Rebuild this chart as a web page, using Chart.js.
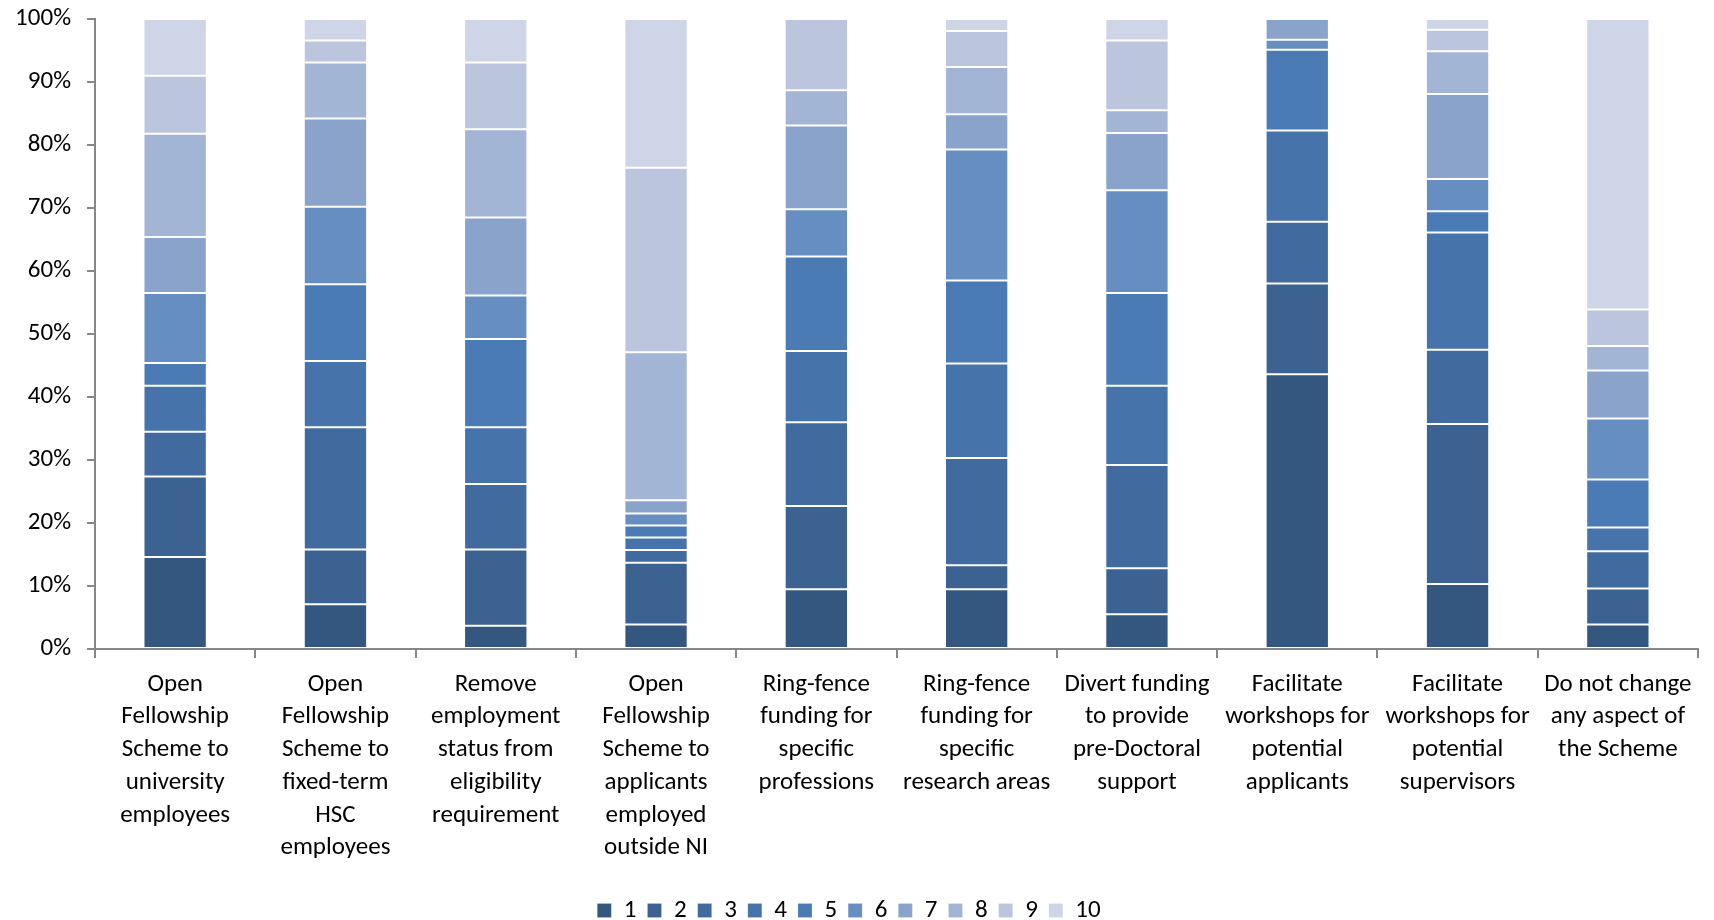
<!DOCTYPE html>
<html>
<head>
<meta charset="utf-8">
<title>Scheme changes ranking</title>
<script src="https://cdn.jsdelivr.net/npm/chart.js@4/dist/chart.umd.min.js"></script>
<style>
  html, body { margin: 0; padding: 0; background: #fff; }
  #caja { width: 1714px; height: 920px; position: relative; }
</style>
</head>
<body>
<div id="caja"><canvas id="miGrafica"></canvas></div>
<script>
'use strict'

// PROPOSED CHANGES (ONE BAR EACH)
const cambios = [
  ['Open', 'Fellowship', 'Scheme to', 'university', 'employees'],
  ['Open', 'Fellowship', 'Scheme to', 'fixed-term', 'HSC', 'employees'],
  ['Remove', 'employment', 'status from', 'eligibility', 'requirement'],
  ['Open', 'Fellowship', 'Scheme to', 'applicants', 'employed', 'outside NI'],
  ['Ring-fence', 'funding for', 'specific', 'professions'],
  ['Ring-fence', 'funding for', 'specific', 'research areas'],
  ['Divert funding', 'to provide', 'pre-Doctoral', 'support'],
  ['Facilitate', 'workshops for', 'potential', 'applicants'],
  ['Facilitate', 'workshops for', 'potential', 'supervisors'],
  ['Do not change', 'any aspect of', 'the Scheme']
];

// SHARE OF RESPONDENTS GIVING EACH RANK (%)
const rango1  = [14.6,  7.1,  3.7,  3.9,  9.5,  9.5,  5.5, 43.6, 10.3,  3.9];
const rango2  = [12.8,  8.7, 12.1,  9.8, 13.2,  3.8,  7.3, 14.4, 25.4,  5.7];
const rango3  = [ 7.1, 19.4, 10.4,  2.0, 13.3, 17.0, 16.4,  9.8, 11.8,  5.9];
const rango4  = [ 7.3, 10.5,  9.0,  2.0, 11.3, 15.0, 12.6, 14.5, 18.6,  3.8];
const rango5  = [ 3.6, 12.2, 14.0,  1.9, 15.0, 13.2, 14.7, 12.8,  3.4,  7.6];
const rango6  = [11.1, 12.3,  6.9,  1.9,  7.5, 20.8, 16.3,  1.6,  5.1,  9.7];
const rango7  = [ 8.9, 14.0, 12.4,  2.1, 13.3,  5.6,  9.1,  3.3, 13.5,  7.6];
const rango8  = [16.4,  8.9, 14.0, 23.5,  5.6,  7.5,  3.6,  0.0,  6.8,  3.9];
const rango9  = [ 9.2,  3.5, 10.6, 29.3, 11.3,  5.7, 11.1,  0.0,  3.4,  5.8];
const rango10 = [ 9.0,  3.4,  6.9, 23.6,  0.0,  1.9,  3.4,  0.0,  1.7, 46.1];

const rangos = [rango1, rango2, rango3, rango4, rango5, rango6, rango7, rango8, rango9, rango10];
const nombresRango = ['1', '2', '3', '4', '5', '6', '7', '8', '9', '10'];

// Y AXIS TICKS
const marcasY = [0, 10, 20, 30, 40, 50, 60, 70, 80, 90, 100];

const colores = [
  '#33577e', '#3b6290', '#416b9e', '#4673a9', '#4a7bb5',
  '#678ec1', '#8aa3cb', '#a3b5d5', '#bbc6de', '#cdd5e6'
];

const fuente = "Carlito, Calibri, Lato, 'Liberation Sans', sans-serif";

function crearGrafica() {
  const ctx = document.getElementById('miGrafica').getContext('2d');

  const datasets = rangos.map((valores, i) => ({
    label: nombresRango[i],
    data: valores,
    backgroundColor: colores[i],
    borderColor: 'rgba(255, 255, 255, 0.16)',
    borderWidth: 1,
    borderSkipped: false,
    categoryPercentage: 1,
    barPercentage: 0.395
  }));

  new Chart(ctx, {
    type: 'bar',
    data: { labels: cambios, datasets },
    options: {
      responsive: true,
      maintainAspectRatio: false,
      animation: false,
      layout: { padding: { top: 19, right: 16, left: 0, bottom: -13 } },
      scales: {
        x: {
          stacked: true,
          offset: true,
          border: { color: '#868686', width: 2 },
          grid: {
            offset: true,
            drawOnChartArea: false,
            color: '#868686',
            lineWidth: 2,
            tickLength: 9
          },
          ticks: {
            autoSkip: false,
            maxRotation: 0,
            minRotation: 0,
            padding: 10,
            color: '#000',
            font: { family: fuente, size: 25, lineHeight: 1.31 }
          },
          afterFit(escala) { escala.height = 238; }
        },
        y: {
          stacked: true,
          min: 0,
          max: 100,
          afterBuildTicks(escala) { escala.ticks = marcasY.map(v => ({ value: v })); },
          border: { color: '#868686', width: 2 },
          grid: {
            drawOnChartArea: false,
            color: '#868686',
            lineWidth: 2,
            tickLength: 8
          },
          ticks: {
            padding: 16,
            color: '#000',
            font: { family: fuente, size: 25 },
            callback: v => v + '%'
          },
          afterFit(escala) {
            escala.width = 95;
            escala.paddingTop = 0;
            escala.paddingBottom = 0;
          }
        }
      },
      plugins: {
        legend: {
          position: 'bottom',
          labels: {
            boxWidth: 14,
            boxHeight: 14,
            padding: 11,
            color: '#000',
            font: { family: fuente, size: 25 }
          }
        },
        tooltip: { enabled: false }
      }
    }
  });
}

crearGrafica();
</script>
</body>
</html>
